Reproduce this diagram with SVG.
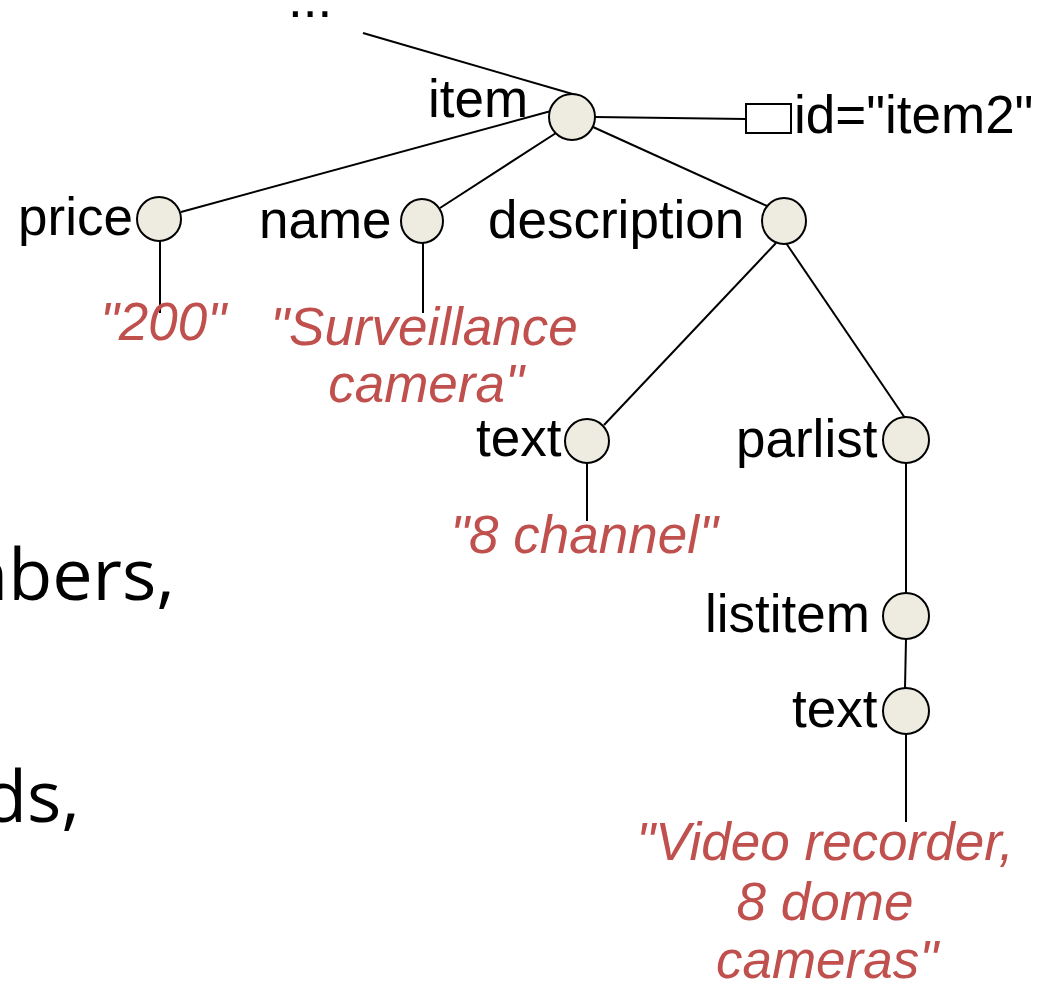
<svg xmlns="http://www.w3.org/2000/svg" width="1040" height="990" viewBox="0 0 1040 990">
<style>
.n{fill:#EEECE1;stroke:#000;stroke-width:2}
.e{stroke:#000;stroke-width:2;fill:none}
.l{font-family:"Liberation Sans",Arial,sans-serif;font-size:53px;fill:#000}
.v{font-family:"Liberation Sans",Arial,sans-serif;font-size:53px;font-style:italic;fill:#C0504D;text-anchor:middle}
.b{font-family:"Open Sans","Noto Sans",sans-serif;font-size:72px;fill:#000;text-anchor:end}
</style>
<rect width="1040" height="990" fill="#fff"/>
<g id="bg-text">
<text class="b" x="175" y="600">numbers,</text>
<text class="b" x="80" y="822">words,</text>
</g>
<g id="connectors">
<line class="e" x1="363" y1="33" x2="576" y2="95"/>
<line class="e" x1="551" y1="111" x2="181" y2="212"/>
<line class="e" x1="556" y1="133" x2="440" y2="208"/>
<line class="e" x1="593" y1="127" x2="767" y2="206"/>
<line class="e" x1="595" y1="117" x2="746" y2="119"/>
<line class="e" x1="160" y1="241" x2="160" y2="313"/>
<line class="e" x1="423" y1="243" x2="423" y2="313"/>
<line class="e" x1="776" y1="243" x2="604" y2="425"/>
<line class="e" x1="786" y1="243" x2="905" y2="418"/>
<line class="e" x1="587" y1="463" x2="587" y2="521"/>
<line class="e" x1="906" y1="463" x2="906" y2="593"/>
<line class="e" x1="906" y1="639" x2="905" y2="688"/>
<line class="e" x1="906" y1="734" x2="906" y2="822"/>
</g>
<g id="root"><text class="l" x="288" y="17">...</text></g>
<g id="item">
<ellipse class="n" cx="572" cy="117" rx="23" ry="23"/>
<text class="l" x="428" y="117">item</text>
</g>
<g id="attr-id">
<rect x="746" y="104" width="45" height="29" fill="#fff" stroke="#000" stroke-width="2"/>
<text class="l" x="794" y="133">id="item2"</text>
</g>
<g id="price">
<ellipse class="n" cx="159" cy="219" rx="22" ry="22"/>
<text class="l" x="18" y="235">price</text>
</g>
<g id="price-val"><text class="v" x="163" y="340">"200"</text></g>
<g id="name">
<ellipse class="n" cx="422" cy="221" rx="21" ry="22"/>
<text class="l" x="259" y="238">name</text>
</g>
<g id="name-val"><text class="v" y="345"><tspan x="424">"Surveillance</tspan><tspan x="426" y="402">camera"</tspan></text></g>
<g id="description">
<ellipse class="n" cx="784" cy="221" rx="22" ry="23"/>
<text class="l" x="488" y="238">description</text>
</g>
<g id="text1">
<ellipse class="n" cx="587" cy="441" rx="22" ry="22"/>
<text class="l" x="476" y="456">text</text>
</g>
<g id="text1-val"><text class="v" x="584" y="553">"8 channel"</text></g>
<g id="parlist">
<ellipse class="n" cx="906" cy="440" rx="23" ry="23"/>
<text class="l" x="736" y="457">parlist</text>
</g>
<g id="listitem">
<ellipse class="n" cx="906" cy="616" rx="23" ry="23"/>
<text class="l" x="705" y="632">listitem</text>
</g>
<g id="text2">
<ellipse class="n" cx="906" cy="711" rx="23" ry="23"/>
<text class="l" x="792" y="727">text</text>
</g>
<g id="text2-val"><text class="v" y="860"><tspan x="825">"Video recorder,</tspan><tspan x="825" y="920">8 dome</tspan><tspan x="827" y="978">cameras"</tspan></text></g>
</svg>
